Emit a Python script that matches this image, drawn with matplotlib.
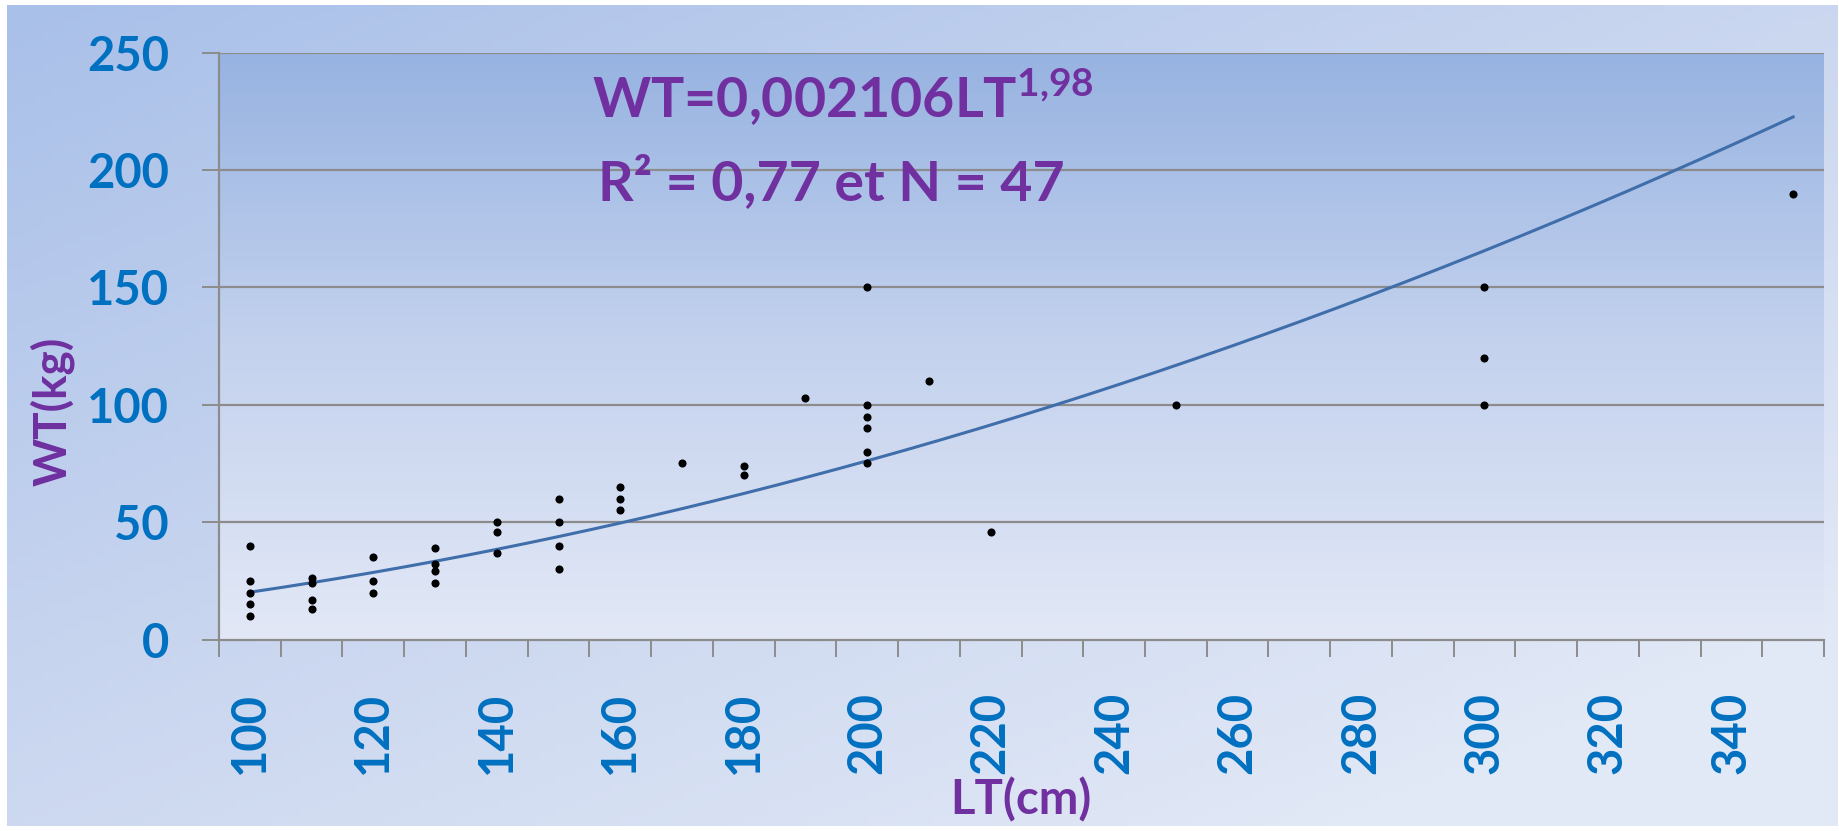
import numpy as np
import matplotlib.pyplot as plt
import matplotlib.colors as mcolors

# LT (cm) and WT (kg)
lt = [100, 100, 100, 100, 100,
      110, 110, 110, 110,
      120, 120, 120,
      130, 130, 130, 130,
      140, 140, 140,
      150, 150, 150, 150,
      160, 160, 160,
      170,
      180, 180,
      190,
      200, 200, 200, 200, 200, 200,
      210,
      220,
      250,
      300, 300, 300,
      350]
wt = [40, 25, 20, 15, 10,
      26, 24, 17, 13,
      35, 25, 20,
      39, 32, 29, 24,
      50, 46, 37,
      60, 50, 40, 30,
      65, 60, 55,
      75,
      74, 70,
      103,
      150, 100, 95, 90, 80, 75,
      110,
      46,
      100,
      150, 120, 100,
      190]

xticks = list(range(100, 341, 20))
yticks = [0, 50, 100, 150, 200, 250]

purple = '#7030A0'
blue_txt = '#0070C0'
grid_c = '#8C8C8C'

plt.rcParams['mathtext.fontset'] = 'custom'
plt.rcParams['mathtext.rm'] = 'Lato'
plt.rcParams['mathtext.bf'] = 'Lato:bold'

W, H, dpi = 1839, 831, 100
fig = plt.figure(figsize=(W / dpi, H / dpi), dpi=dpi, facecolor='white')

# outer chart area: diagonal gradient
bg = fig.add_axes([7 / W, 5 / H, 1831 / W, 821 / H], zorder=-10)
gx, gy = np.meshgrid(np.linspace(0, 1, 200), np.linspace(0, 1, 100))
t = np.clip(0.55 * gx + 0.6 * gy, 0, 1)
cmap_out = mcolors.LinearSegmentedColormap.from_list('o', ['#A9C0E9', '#C8D5EF', '#E1E8F6'])
bg.imshow(t, cmap=cmap_out, aspect='auto', extent=[0, 1, 0, 1], origin='upper')
bg.axis('off')

ax = fig.add_axes([219 / W, 1 - 639.5 / H, (1824 - 219) / W, (639.5 - 52.8) / H])
ax.set_xlim(95, 355)
ax.set_ylim(0, 250)

# plot area: vertical gradient
cmap_in = mcolors.LinearSegmentedColormap.from_list('i', ['#E2E8F6', '#C4D2EE', '#97B3E1'])
ax.imshow(np.linspace(0, 1, 256).reshape(-1, 1), cmap=cmap_in, aspect='auto',
          extent=[95, 355, 0, 250], origin='lower', zorder=0)

for v in yticks[1:]:
    ax.axhline(v, color=grid_c, lw=1.6, zorder=1)

# power trend line (least squares on log-log, as Excel does)
b, loga = np.polyfit(np.log(lt), np.log(wt), 1)
xs = np.linspace(min(lt), max(lt), 300)
ax.plot(xs, np.exp(loga) * xs ** b, color='#3F6EAA', lw=2.2, zorder=3)

ax.scatter(lt, wt, s=34, color='black', zorder=4, linewidths=0)

for s in ['top', 'right']:
    ax.spines[s].set_visible(False)
for s in ['left', 'bottom']:
    ax.spines[s].set_color(grid_c)
    ax.spines[s].set_linewidth(1.6)

ax.set_yticks(yticks)
ax.set_yticklabels([str(v) for v in yticks])
ax.tick_params(axis='y', length=12, width=1.4, color=grid_c, pad=24,
               labelsize=34, labelcolor=blue_txt)
ax.set_xticks(xticks)
ax.set_xticklabels([str(v) for v in xticks], rotation=90)
ax.set_xticks(np.arange(95, 356, 10), minor=True)
ax.tick_params(axis='x', which='major', length=0, pad=38, labelsize=34, labelcolor=blue_txt)
ax.tick_params(axis='x', which='minor', length=12, width=1.4, color=grid_c)
for lab in ax.get_xticklabels() + ax.get_yticklabels():
    lab.set_fontweight('bold')
    lab.set_fontfamily('Lato')

fig.text(52 / W, 1 - 411 / H, 'WT(kg)', rotation=90, ha='center', va='center',
         fontsize=33, fontweight='bold', color=purple, family='Lato')
fig.text(1021 / W, 1 - 800 / H, 'LT(cm)', ha='center', va='center',
         fontsize=34, fontweight='bold', color=purple, family='Lato')

fig.text(592 / W, 1 - 97 / H, r'WT=0,002106LT$^{\mathbf{1{,}98}}$', ha='left', va='center',
         fontsize=40, fontweight='bold', color=purple, family='Lato')
fig.text(598 / W, 1 - 182 / H, 'R² = 0,77 et N = 47', ha='left', va='center',
         fontsize=40, fontweight='bold', color=purple, family='Lato')

fig.savefig('out.png', dpi=dpi, facecolor='white')
